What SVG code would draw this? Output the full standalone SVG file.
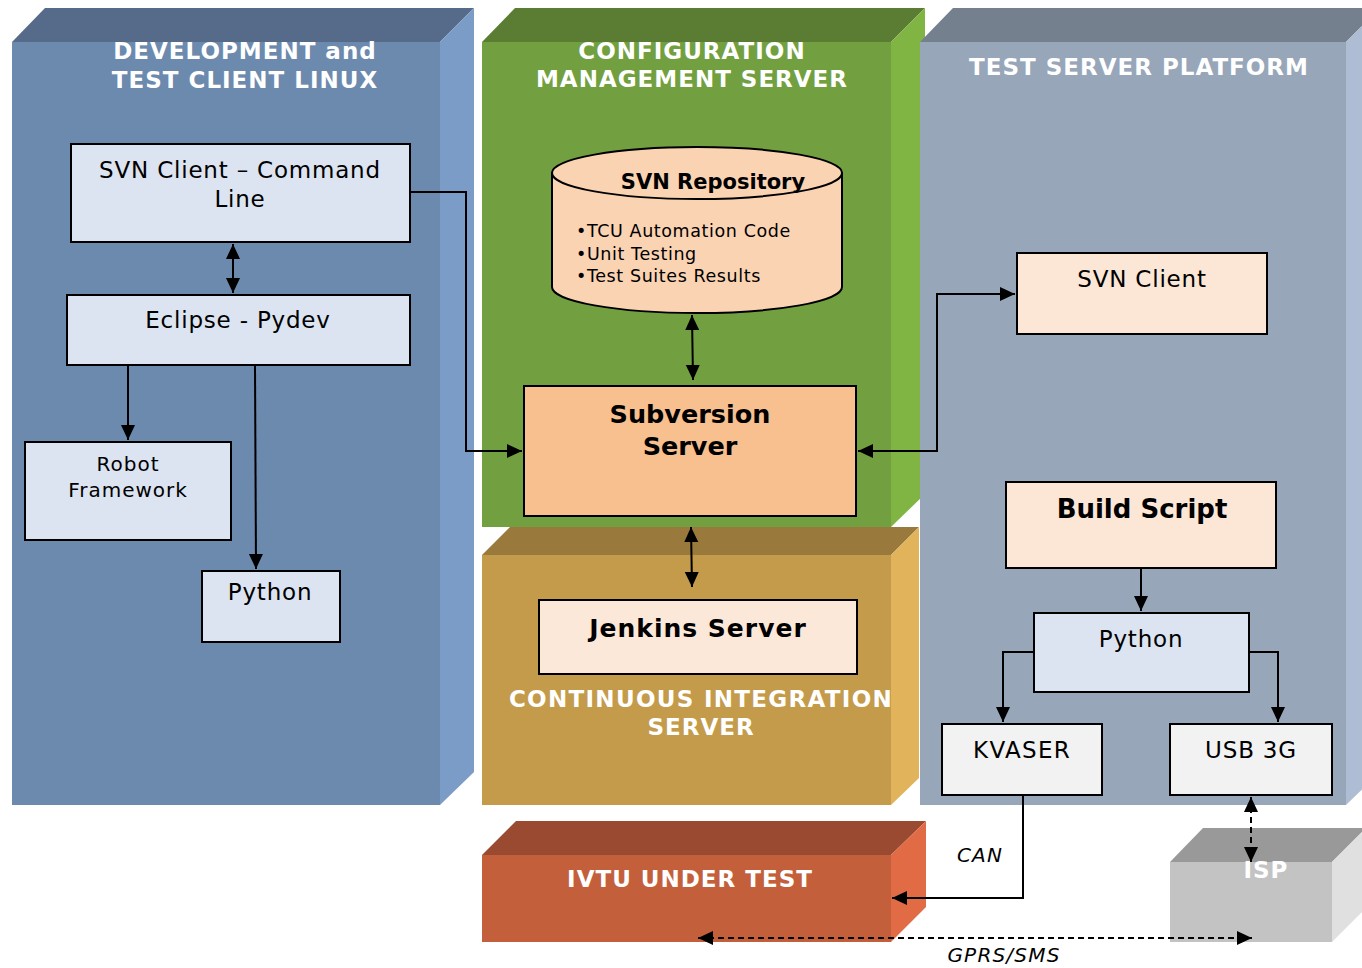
<svg xmlns="http://www.w3.org/2000/svg" width="1362" height="968" viewBox="0 0 1362 968">
<style>
text{font-family:"DejaVu Sans","Verdana","Liberation Sans",sans-serif;}
.t{fill:#fff;font-weight:bold;font-size:23px;text-anchor:middle;letter-spacing:1px;}
.n{fill:#000;font-size:23px;text-anchor:middle;letter-spacing:0.8px;}
.b{fill:#000;font-weight:bold;font-size:25px;text-anchor:middle;}
.box{stroke:#000;stroke-width:2;}
.c{fill:none;stroke:#000;stroke-width:2;}
.d{fill:none;stroke:#000;stroke-width:2;stroke-dasharray:6 4;}
.lbl{fill:#000;font-style:italic;font-size:20px;text-anchor:middle;letter-spacing:1.2px;}
.bul{fill:#000;font-size:17.5px;letter-spacing:0.6px;}
</style>
<defs>
<marker id="ah" markerUnits="userSpaceOnUse" markerWidth="16" markerHeight="16" viewBox="0 0 16 16" refX="15" refY="8" orient="auto-start-reverse">
<path d="M0,1 L15,8 L0,15 z" fill="#000"/>
</marker>
</defs>
<rect width="1362" height="968" fill="#fff"/>

<g id="panel-dev">
<polygon points="12,42 45,8 474,8 440,42" fill="#566b8a"/>
<polygon points="440,42 474,8 474,772 440,805" fill="#7b9cc7"/>
<rect x="12" y="42" width="428" height="763" fill="#6c89ae"/>
<text class="t" x="245" y="59">DEVELOPMENT and</text>
<text class="t" x="245" y="88">TEST CLIENT LINUX</text>
</g>

<g id="panel-ci">
<polygon points="482,555 510,527 919,527 891,555" fill="#9a7a3c"/>
<polygon points="891,555 919,527 919,778 891,805" fill="#e1b35a"/>
<rect x="482" y="555" width="409" height="250" fill="#c39b4b"/>
<text class="t" x="701" y="707" style="letter-spacing:1.3px">CONTINUOUS INTEGRATION</text>
<text class="t" x="701" y="735">SERVER</text>
</g>

<g id="panel-cm">
<polygon points="482,42 515,8 925,8 891,42" fill="#5a7d33"/>
<polygon points="891,42 925,8 925,494 891,527" fill="#80b543"/>
<rect x="482" y="42" width="409" height="485" fill="#72a040"/>
<text class="t" x="692" y="59">CONFIGURATION</text>
<text class="t" x="692" y="87">MANAGEMENT SERVER</text>
</g>

<g id="panel-test">
<polygon points="920,42 953,8 1380,8 1346,42" fill="#75808f"/>
<polygon points="1346,42 1380,8 1380,772 1346,805" fill="#aebdd4"/>
<rect x="920" y="42" width="426" height="763" fill="#97a6b9"/>
<text class="t" x="1139" y="75">TEST SERVER PLATFORM</text>
</g>

<g id="ivtu">
<polygon points="482,855 516,821 926,821 891,855" fill="#9a4a30"/>
<polygon points="891,855 926,821 926,907 891,942" fill="#e06b45"/>
<rect x="482" y="855" width="409" height="87" fill="#c45f3c"/>
<text class="t" x="690" y="887">IVTU UNDER TEST</text>
</g>

<g id="isp">
<polygon points="1170,862 1203,828 1366,828 1332,862" fill="#999999"/>
<polygon points="1332,862 1366,828 1366,908 1332,942" fill="#e0e0e0"/>
<rect x="1170" y="862" width="162" height="80" fill="#c3c3c3"/>
<text class="t" x="1266" y="878">ISP</text>
</g>

<g id="svn-cl">
<rect class="box" x="71" y="144" width="339" height="98" fill="#dbe4f0"/>
<text class="n" x="240" y="178">SVN Client – Command</text>
<text class="n" x="240" y="207">Line</text>
</g>

<g id="eclipse">
<rect class="box" x="67" y="295" width="343" height="70" fill="#dbe4f0"/>
<text class="n" x="238" y="328">Eclipse - Pydev</text>
</g>

<g id="robot">
<rect class="box" x="25" y="442" width="206" height="98" fill="#dbe4f0"/>
<text class="n" style="font-size:20px;letter-spacing:1px" x="128" y="471">Robot</text>
<text class="n" style="font-size:20px;letter-spacing:1px" x="128" y="497">Framework</text>
</g>

<g id="python-dev">
<rect class="box" x="202" y="571" width="138" height="71" fill="#dbe4f0"/>
<text class="n" x="270" y="600">Python</text>
</g>

<g id="svn-repo">
<path class="box" d="M552,173 V287 A145,26 0 0 0 842,287 V173 Z" fill="#fad3b3"/>
<ellipse class="box" cx="697" cy="173" rx="145" ry="26" fill="#fad3b3"/>
<text class="b" style="font-size:21px" x="713" y="189">SVN Repository</text>
<text class="bul" x="576" y="237">•TCU Automation Code</text>
<text class="bul" x="576" y="260">•Unit Testing</text>
<text class="bul" x="576" y="282">•Test Suites Results</text>
</g>

<g id="subversion">
<rect class="box" x="524" y="386" width="332" height="130" fill="#f8bf8f"/>
<text class="b" style="font-size:25.5px" x="690" y="423">Subversion</text>
<text class="b" style="font-size:25.5px" x="690" y="455">Server</text>
</g>

<g id="jenkins">
<rect class="box" x="539" y="600" width="318" height="74" fill="#fce8d8"/>
<text class="b" style="letter-spacing:1px" x="698" y="637">Jenkins Server</text>
</g>

<g id="svn-client">
<rect class="box" x="1017" y="253" width="250" height="81" fill="#fce7d7"/>
<text class="n" x="1142" y="287">SVN Client</text>
</g>

<g id="build-script">
<rect class="box" x="1006" y="482" width="270" height="86" fill="#fce7d7"/>
<text class="b" style="font-size:26px" x="1142" y="518">Build Script</text>
</g>

<g id="python-test">
<rect class="box" x="1034" y="613" width="215" height="79" fill="#dbe4f0"/>
<text class="n" x="1141" y="647">Python</text>
</g>

<g id="kvaser">
<rect class="box" x="942" y="724" width="160" height="71" fill="#f2f2f2"/>
<text class="n" style="letter-spacing:1.3px" x="1022" y="758">KVASER</text>
</g>

<g id="usb3g">
<rect class="box" x="1170" y="724" width="162" height="71" fill="#f2f2f2"/>
<text class="n" x="1251" y="758">USB 3G</text>
</g>

<g id="connectors">
<path class="c" d="M233,244 V293" marker-start="url(#ah)" marker-end="url(#ah)"/>
<path class="c" d="M128,364 V440" marker-end="url(#ah)"/>
<path class="c" d="M255,366 L256,569" marker-end="url(#ah)"/>
<path class="c" d="M410,192 H466 V451 H522" marker-end="url(#ah)"/>
<path class="c" d="M692,315 L693,380" marker-start="url(#ah)" marker-end="url(#ah)"/>
<path class="c" d="M691,527 L692,587" marker-start="url(#ah)" marker-end="url(#ah)"/>
<path class="c" d="M858,451 H937 V294 H1015" marker-start="url(#ah)" marker-end="url(#ah)"/>
<path class="c" d="M1141,568 V611" marker-end="url(#ah)"/>
<path class="c" d="M1034,652 H1003 V722" marker-end="url(#ah)"/>
<path class="c" d="M1249,652 H1278 V722" marker-end="url(#ah)"/>
<path class="c" d="M1023,795 V898 H892" marker-end="url(#ah)"/>
<path class="d" d="M1251,797 V862" marker-start="url(#ah)" marker-end="url(#ah)"/>
<path class="d" d="M698,938 H1252" marker-start="url(#ah)" marker-end="url(#ah)"/>
<text class="lbl" x="980" y="862">CAN</text>
<text class="lbl" x="1004" y="962">GPRS/SMS</text>
</g>
</svg>
